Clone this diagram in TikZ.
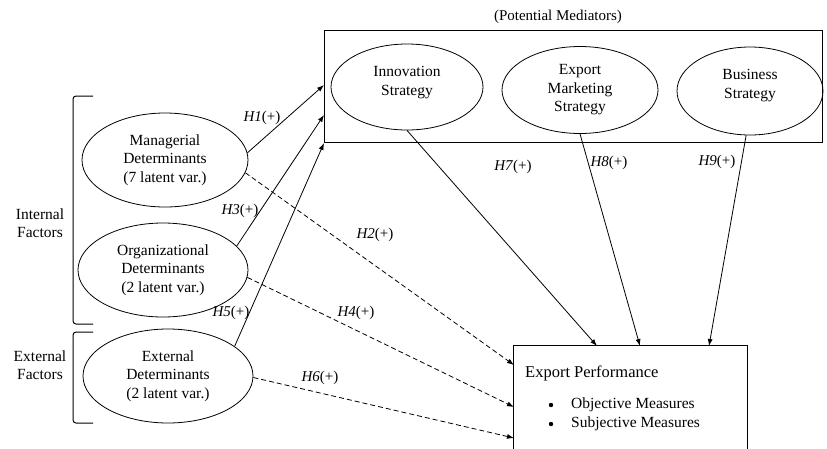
\documentclass[tikz,border=0pt]{standalone}
\usepackage{fontspec}
\setmainfont{Liberation Serif}
\usetikzlibrary{arrows.meta,shapes.geometric}
\begin{document}
\begin{tikzpicture}[x=1pt,y=-1pt,
  ell/.style={ellipse, draw, line width=0.8pt, inner sep=0pt, align=center, font=\fontsize{15.5}{18.5}\selectfont},
  arr/.style={-{Latex[length=7pt,width=5pt]}, line width=0.8pt},
  darr/.style={arr, dash pattern=on 5pt off 3pt},
  hl/.style={font=\fontsize{15}{16}\selectfont, inner sep=0pt},
  txt/.style={font=\fontsize{15.5}{18.5}\selectfont, align=center, inner sep=0pt},
  bracket/.style={line width=1pt, rounded corners=3pt}]
\useasboundingbox (0,0) rectangle (827,448);

% mediator box
\node[draw, line width=0.8pt, minimum width=498pt, minimum height=112pt, inner sep=0pt] (med) at (573,86) {};
\node[txt, font=\fontsize{15}{18}\selectfont] (medl) at (558,17) {(Potential Mediators)};

% ellipses
\node[ell, minimum width=152pt, minimum height=86pt] (inn) at (407,87) {Innovation\\Strategy\\[-6pt]\phantom{x}};
\node[ell, minimum width=156pt, minimum height=87pt] (emk) at (580,90) {Export\\Marketing\\Strategy};
\node[ell, minimum width=146pt, minimum height=88pt] (bus) at (750,91) {Business\\Strategy\\[-4pt]\phantom{x}};

\node[ell, minimum width=166pt, minimum height=94pt] (mgr) at (165,160) {Managerial\\Determinants\\(7 latent var.)};
\node[ell, minimum width=170pt, minimum height=94pt] (org) at (163,270) {Organizational\\Determinants\\(2 latent var.)};
\node[ell, minimum width=170pt, minimum height=94pt] (ext) at (168,376) {External\\Determinants\\(2 latent var.)};

% brackets
\draw[bracket] (93,96) -- (73,96) -- (73,324) -- (93,324);
\draw[bracket] (93,332) -- (73,332) -- (73,423) -- (93,423);
\node[txt] (intl) at (40,223) {Internal\\Factors};
\node[txt] (extl) at (40,365) {External\\Factors};

% export performance box
\node[minimum width=233pt, minimum height=106pt, inner sep=0pt] (ep) at (630.5,399) {};
\draw[line width=0.8pt] (ep.south west) -- (ep.north west) -- (ep.north east) -- (ep.south east);
\node[font=\fontsize{16.5}{18}\selectfont, anchor=west, inner sep=0pt] (ept) at (525,373) {Export Performance};
\node[font=\fontsize{15.5}{16}\selectfont, anchor=west, inner sep=0pt] (it1) at (571,405) {Objective Measures};
\node[font=\fontsize{15.5}{16}\selectfont, anchor=west, inner sep=0pt] (it2) at (571,424) {Subjective Measures};
\fill (551,405) circle (2.2pt);
\fill (551,424) circle (2.2pt);

% endpoints
\coordinate (m1) at (324,85);
\coordinate (m3) at (324,115);
\coordinate (m5) at (324,143);
\coordinate (e2) at (514,365);
\coordinate (e4) at (514,407);
\coordinate (e6) at (514,438);
\coordinate (e7) at (597,346);
\coordinate (e8) at (640,346);
\coordinate (e9) at (709,346);

% solid arrows to mediators
\draw[arr] (mgr.5) -- (m1);
\draw[arr] (org.18) -- (m3);
\draw[arr] (ext.24) -- (m5);

% dashed direct arrows
\draw[darr] (mgr.-9) -- (e2);
\draw[darr] (org.-5) -- (e4);
\draw[darr] (ext.-1) -- (e6);

% mediator to performance
\draw[arr] (inn.south) -- (e7);
\draw[arr] (emk.south) -- (e8);
\draw[arr] (bus.-95) -- (e9);

% labels
\node[hl] (h1) at (262,118) {\textit{H1}(+)};
\node[hl] (h3) at (240,211) {\textit{H3}(+)};
\node[hl] (h5) at (231,313) {\textit{H5}(+)};
\node[hl] (h2) at (375,235) {\textit{H2}(+)};
\node[hl] (h4) at (356,313) {\textit{H4}(+)};
\node[hl] (h6) at (320,378) {\textit{H6}(+)};
\node[hl] (h7) at (513,167) {\textit{H7}(+)};
\node[hl] (h8) at (609,163) {\textit{H8}(+)};
\node[hl] (h9) at (717,162) {\textit{H9}(+)};
\end{tikzpicture}
\end{document}
